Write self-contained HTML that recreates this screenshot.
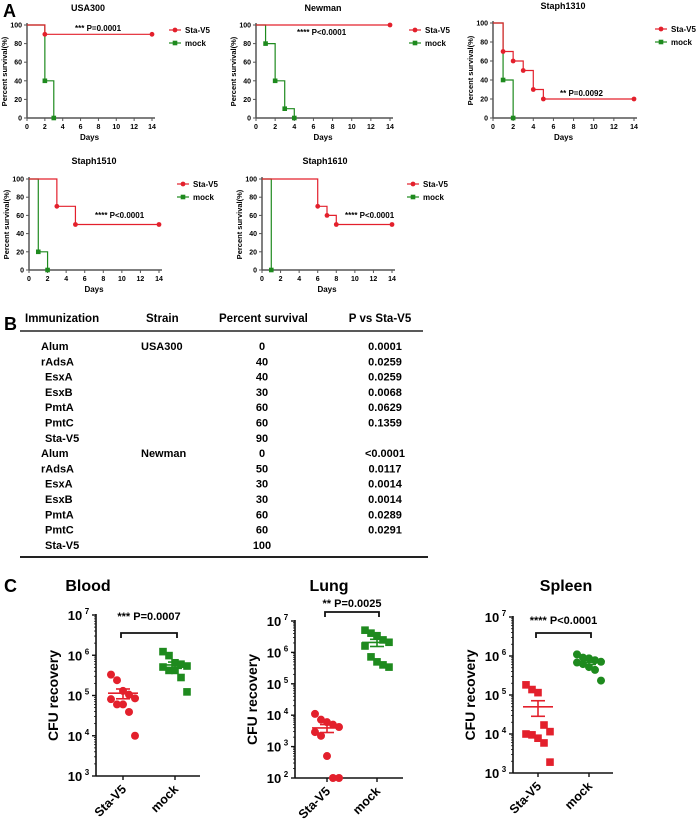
<!DOCTYPE html>
<html><head><meta charset="utf-8"><style>
body{margin:0;background:#fff;}
svg{display:block;font-family:"Liberation Sans",Arial,sans-serif;font-weight:bold;}
</style></head><body>
<svg id="fig" width="696" height="819" viewBox="0 0 696 819" xmlns="http://www.w3.org/2000/svg">
<text x="3" y="17" font-size="18">A</text>
<text x="4" y="330" font-size="18">B</text>
<text x="4" y="592" font-size="18">C</text>
<g id="table"></g>
</svg>
<script>
// ---------- Panel A data ----------
const survTitles = ["USA300","Newman","Staph1310","Staph1510","Staph1610"];
const survPText = ["*** P=0.0001","**** P<0.0001","** P=0.0092","**** P<0.0001","**** P<0.0001"];
const staDays = [[2,14],[14],[1,2,3,4,5,14],[3,5,14],[6,7,8,14]];
const staVals = [[90,90],[100],[70,60,50,30,20,20],[70,50,50],[70,60,50,50]];
const mockDays = [[2,3],[1,2,3,4],[1,2],[1,2],[1]];
const mockVals = [[40,0],[80,40,10,0],[40,0],[20,0],[0]];
const xTicks = [0,2,4,6,8,10,12,14];
const yTicks = [0,20,40,60,80,100];
// layout (not data)
const L = [
 {ox:27,x14:152,y0:118,y100:25,tx:88,ty:11,px:75,py:31,lx:175,ly:30},
 {ox:256,x14:390,y0:118,y100:25,tx:323,ty:11,px:297,py:35,lx:415,ly:30},
 {ox:493,x14:634,y0:118,y100:23,tx:563,ty:9,px:560,py:96,lx:661,ly:29},
 {ox:29,x14:159,y0:270,y100:179,tx:94,ty:164,px:95,py:218,lx:183,ly:184},
 {ox:262,x14:392,y0:270,y100:179,tx:325,ty:164,px:345,py:218,lx:413,ly:184}
];
const NS="http://www.w3.org/2000/svg";
const svg=document.getElementById('fig');
function mk(tag,attrs,parent,text){const e=document.createElementNS(NS,tag);for(const k in attrs)e.setAttribute(k,attrs[k]);if(text!==undefined)e.textContent=text;(parent||svg).appendChild(e);return e;}
const RED="#e3202c",GRN="#1e8a1e";
function stepPath(days,vals,sx,sy){let d=`M${sx(0)},${sy(100)}`;for(let i=0;i<days.length;i++){d+=` H${sx(days[i])} V${sy(vals[i])}`;}return d;}
survTitles.forEach((t,i)=>{
  const g=mk('g',{});
  
  
  const l=L[i];
  const sx=d=>l.ox+(l.x14-l.ox)*d/14, sy=v=>l.y0-(l.y0-l.y100)*v/100;
  let e=mk('text',{x:l.tx,y:l.ty,'font-size':9,'text-anchor':'middle'},g,t);
  
  mk('line',{x1:l.ox,y1:l.y100-2,x2:l.ox,y2:l.y0,stroke:'#555','stroke-width':1.5},g);
  mk('line',{x1:l.ox,y1:l.y0,x2:l.x14+3,y2:l.y0,stroke:'#555','stroke-width':1.5},g);
  yTicks.forEach(v=>{mk('line',{x1:l.ox-3,y1:sy(v),x2:l.ox,y2:sy(v),stroke:'#555'},g);
    e=mk('text',{x:l.ox-5,y:sy(v)+2.5,'font-size':7,'text-anchor':'end'},g,v);
    });
  xTicks.forEach(v=>{mk('line',{x1:sx(v),y1:l.y0,x2:sx(v),y2:l.y0+3,stroke:'#555'},g);
    e=mk('text',{x:sx(v),y:l.y0+11,'font-size':7,'text-anchor':'middle'},g,v);
    });
  e=mk('text',{x:(l.ox+l.x14)/2,y:l.y0+22,'font-size':8,'text-anchor':'middle'},g,'Days');
  
  const cy=(l.y0+l.y100)/2;
  e=mk('text',{x:l.ox-20,y:cy,'font-size':7.5,'text-anchor':'middle',transform:`rotate(-90 ${l.ox-20} ${cy})`},g,'Percent survival(%)');
  
  e=mk('path',{d:stepPath(mockDays[i],mockVals[i],sx,sy),fill:'none',stroke:GRN,'stroke-width':1.2},g);
  
  mockDays[i].forEach((d,j)=>{e=mk('rect',{x:sx(d)-2.3,y:sy(mockVals[i][j])-2.3,width:4.6,height:4.6,fill:GRN},g);
    });
  e=mk('path',{d:stepPath(staDays[i],staVals[i],sx,sy),fill:'none',stroke:RED,'stroke-width':1.2},g);
  
  staDays[i].forEach((d,j)=>{e=mk('circle',{cx:sx(d),cy:sy(staVals[i][j]),r:2.4,fill:RED},g);
    });
  e=mk('text',{x:l.px,y:l.py,'font-size':8},g,survPText[i]);
  
  [['Sta-V5',RED,0],['mock',GRN,13]].forEach(([n,c,dy])=>{
    const lg=mk('g',{},g);
    
    
    mk('line',{x1:l.lx-6,y1:l.ly+dy,x2:l.lx+6,y2:l.ly+dy,stroke:c,'stroke-width':1.2},lg);
    if(n==='mock')mk('rect',{x:l.lx-2.3,y:l.ly+dy-2.3,width:4.6,height:4.6,fill:c},lg);
    else mk('circle',{cx:l.lx,cy:l.ly+dy,r:2.4,fill:c},lg);
    mk('text',{x:l.lx+10,y:l.ly+dy+3,'font-size':8},lg,n);
  });
});
// ---------- Panel B table ----------
const tbl=document.getElementById('table');
const tblHead=["Immunization","Strain","Percent survival","P vs Sta-V5"];
const tblImm=["Alum","rAdsA","EsxA","EsxB","PmtA","PmtC","Sta-V5","Alum","rAdsA","EsxA","EsxB","PmtA","PmtC","Sta-V5"];
const tblStrain=["USA300","","","","","","","Newman","","","","","",""];
const tblSurv=["0","40","40","30","60","60","90","0","50","30","30","60","60","100"];
const tblP=["0.0001","0.0259","0.0259","0.0068","0.0629","0.1359","","<0.0001","0.0117","0.0014","0.0014","0.0289","0.0291",""];
[[25,'start'],[146,'start'],[219,'start'],[380,'middle']].forEach(([x,a],k)=>{
  const e=mk('text',{x:x,y:322,'font-size':11.5,'text-anchor':a},tbl,tblHead[k]);
  });
mk('line',{x1:20,y1:331,x2:423,y2:331,stroke:'#222','stroke-width':1.5},tbl);
mk('line',{x1:20,y1:557,x2:428,y2:557,stroke:'#222','stroke-width':2},tbl);
tblImm.forEach((n,r)=>{
  const y=350+r*15.3;
  const ix=(n==='Alum'||n==='rAdsA')?41:45;
  let e=mk('text',{x:ix,y:y,'font-size':11},tbl,n);
  
  if(tblStrain[r]){e=mk('text',{x:141,y:y,'font-size':11},tbl,tblStrain[r]);
    }
  e=mk('text',{x:262,y:y,'font-size':11,'text-anchor':'middle'},tbl,tblSurv[r]);
  
  if(tblP[r]){e=mk('text',{x:385,y:y,'font-size':11,'text-anchor':'middle'},tbl,tblP[r]);
    }
});
// ---------- Panel C data ----------
const cfuTitles=["Blood","Lung","Spleen"];
const cfuGroups=["Sta-V5","mock"];
const cfuP=["*** P=0.0007","** P=0.0025","**** P<0.0001"];
const bloodSta=[330000,240000,130000,105000,85000,81000,60000,60000,39000,10000];
const bloodMock=[1230000,980000,650000,600000,540000,510000,420000,420000,280000,123000];
const lungSta=[11000,7200,6000,5000,4200,2900,2200,500,100,100];
const lungMock=[5100000,4100000,3400000,2500000,2100000,1600000,720000,500000,400000,340000];
const spleenSta=[182000,138000,115000,17000,11500,10000,9500,7800,5900,1900];
const spleenMock=[1100000,910000,870000,780000,710000,680000,620000,520000,440000,234000];
const cfuSets=[[bloodSta,bloodMock],[lungSta,lungMock],[spleenSta,spleenMock]];
const cfuMinExp=[3,2,3];
const cfuMarks=[['circle','square'],['circle','square'],['square','circle']];
const CL=[
 {ox:96,x2:200,c1:123,c2:175,top:615,bot:776,tx:88,by:633,pty:620},
 {ox:295,x2:403,c1:327,c2:377,top:621,bot:778,tx:329,by:612,pty:607},
 {ox:513,x2:613,c1:538,c2:589,top:617,bot:773,tx:566,by:633,pty:624}
];
function mean(a){return a.reduce((s,v)=>s+v,0)/a.length;}
function sem(a){const m=mean(a);return Math.sqrt(a.reduce((s,v)=>s+(v-m)**2,0)/(a.length-1))/Math.sqrt(a.length);}
cfuTitles.forEach((t,i)=>{
  const l=CL[i],g=mk('g',{});
  
  
  const lo=cfuMinExp[i],hi=7;
  const sy=v=>l.bot-(Math.log10(v)-lo)/(hi-lo)*(l.bot-l.top);
  let e=mk('text',{x:l.tx,y:591,'font-size':16,'text-anchor':'middle'},g,t);
  
  mk('line',{x1:l.ox,y1:l.top-1,x2:l.ox,y2:l.bot,stroke:'#111','stroke-width':1.6},g);
  mk('line',{x1:l.ox,y1:l.bot,x2:l.x2,y2:l.bot,stroke:'#111','stroke-width':1.6},g);
  for(let p=lo;p<=hi;p++){
    const y=sy(Math.pow(10,p));
    mk('line',{x1:l.ox-4,y1:y,x2:l.ox,y2:y,stroke:'#111','stroke-width':1.4},g);
    e=mk('text',{x:l.ox-21,y:y+5,'font-size':13,'text-anchor':'middle'},g,'10');
    
    mk('text',{x:l.ox-9,y:y-1,'font-size':8,'text-anchor':'middle'},g,p);
  }
  for(let p=lo;p<hi;p++)for(let m=2;m<10;m++){const y=sy(m*Math.pow(10,p));mk('line',{x1:l.ox-2,y1:y,x2:l.ox,y2:y,stroke:'#111','stroke-width':0.8},g);}
  const cy=(l.top+l.bot)/2;
  e=mk('text',{x:l.ox-38,y:cy,'font-size':14,'text-anchor':'middle',transform:`rotate(-90 ${l.ox-38} ${cy})`},g,'CFU recovery');
  
  [l.c1,l.c2].forEach((cx,k)=>{
    mk('line',{x1:cx,y1:l.bot,x2:cx,y2:l.bot+4,stroke:'#111','stroke-width':1.4},g);
    e=mk('text',{x:cx+4,y:l.bot+14,'font-size':12.5,'text-anchor':'end',transform:`rotate(-45 ${cx+4} ${l.bot+14})`},g,cfuGroups[k]);
    
    const data=cfuSets[i][k],col=k===0?RED:GRN;
    data.forEach((v,j)=>{
      const jit=((j%5)-2)*6;
      const x=cx+jit,y=sy(v);
      if(cfuMarks[i][k]==='circle'){e=mk('circle',{cx:x,cy:y,r:4,fill:col},g);}
      else{e=mk('rect',{x:x-3.8,y:y-3.8,width:7.6,height:7.6,fill:col},g);}
      
    });
    const m=mean(data),s=sem(data);
    mk('line',{x1:cx-15,y1:sy(m),x2:cx+15,y2:sy(m),stroke:col,'stroke-width':1.6},g);
    mk('line',{x1:cx,y1:sy(m+s),x2:cx,y2:sy(Math.max(m-s,1)),stroke:col,'stroke-width':1.6},g);
    mk('line',{x1:cx-7,y1:sy(m+s),x2:cx+7,y2:sy(m+s),stroke:col,'stroke-width':1.6},g);
    mk('line',{x1:cx-7,y1:sy(m-s),x2:cx+7,y2:sy(m-s),stroke:col,'stroke-width':1.6},g);
  });
  e=mk('path',{d:`M${l.c1-2},${l.by+5} V${l.by} H${l.c2+2} V${l.by+5}`,fill:'none',stroke:'#111','stroke-width':1.8},g);
  
  e=mk('text',{x:(l.c1+l.c2)/2,y:l.pty,'font-size':11,'text-anchor':'middle'},g,cfuP[i]);
  
});
</script>
</body></html>
